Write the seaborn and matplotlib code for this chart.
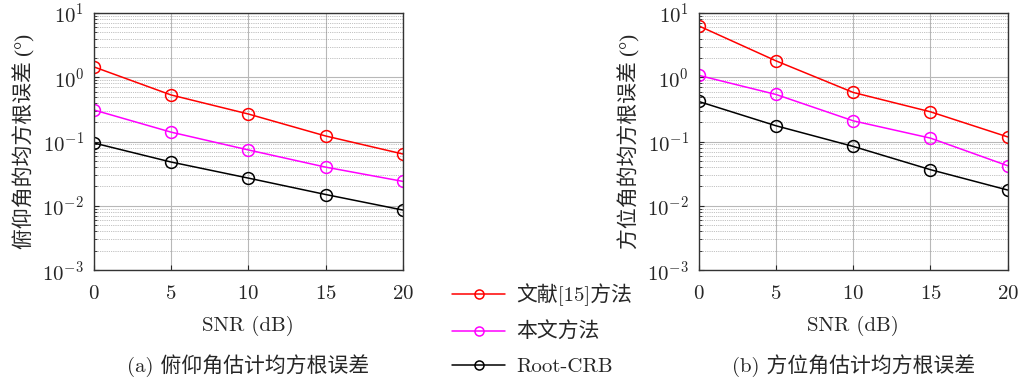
import numpy as np
import pandas as pd
import matplotlib
matplotlib.use('Agg')
import matplotlib.pyplot as plt
import seaborn as sns
from matplotlib.ticker import LogLocator, NullFormatter

sns.set_style('ticks')
plt.rcParams['font.family'] = ['cmr10', 'Noto Sans CJK SC', 'DejaVu Sans']
plt.rcParams['mathtext.fontset'] = 'cm'
plt.rcParams['axes.unicode_minus'] = False
plt.rcParams['axes.formatter.use_mathtext'] = True

# 数据
snr = [0, 5, 10, 15, 20]
methods = ['文献[15]方法', '本文方法', 'Root-CRB']
colors = ['#ff0000', '#ff00ff', '#000000']

# 俯仰角 RMSE
elev_ref15 = [1.45, 0.53, 0.268, 0.122, 0.064]
elev_ours = [0.31, 0.14, 0.074, 0.040, 0.024]
elev_crb = [0.095, 0.048, 0.027, 0.015, 0.0086]

# 方位角 RMSE
azim_ref15 = [6.3, 1.8, 0.58, 0.29, 0.118]
azim_ours = [1.07, 0.54, 0.21, 0.113, 0.042]
azim_crb = [0.42, 0.176, 0.084, 0.0365, 0.0176]


def to_long(a, b, c):
    rows = []
    for name, vals in zip(methods, [a, b, c]):
        for s, v in zip(snr, vals):
            rows.append({'SNR': s, 'RMSE': v, 'method': name})
    return pd.DataFrame(rows)


df_elev = to_long(elev_ref15, elev_ours, elev_crb)
df_azim = to_long(azim_ref15, azim_ours, azim_crb)

fig = plt.figure(figsize=(10.2, 3.81), dpi=100)
ax1 = fig.add_axes([0.092, 0.291, 0.303, 0.675])
ax2 = fig.add_axes([0.685, 0.291, 0.303, 0.675])

palette = dict(zip(methods, colors))
fs = 15

for ax, df, ylab, cap in [
    (ax1, df_elev, '俯仰角的均方根误差 (°)', '(a) 俯仰角估计均方根误差'),
    (ax2, df_azim, '方位角的均方根误差 (°)', '(b) 方位角估计均方根误差'),
]:
    sns.lineplot(data=df, x='SNR', y='RMSE', hue='method', hue_order=methods,
                 palette=palette, marker='o', markersize=8.5, markerfacecolor='none',
                 markeredgewidth=1.1, linewidth=1.1, ax=ax, legend=(ax is ax1))
    # 标记边框颜色与线一致
    for line in ax.get_lines():
        line.set_markeredgecolor(line.get_color())
    ax.set_yscale('log')
    ax.set_ylim(1e-3, 10)
    ax.set_xlim(0, 20)
    ax.set_xticks(snr)
    ax.yaxis.set_major_locator(LogLocator(base=10, numticks=10))
    ax.yaxis.set_minor_locator(LogLocator(base=10, subs=np.arange(2, 10), numticks=20))
    ax.yaxis.set_minor_formatter(NullFormatter())
    ax.grid(which='major', color='#b8b8b8', linewidth=0.8, linestyle='-')
    ax.grid(which='minor', axis='y', color='#888888', linewidth=0.5, linestyle=':')
    ax.tick_params(direction='in', which='both', labelsize=fs)
    ax.tick_params(axis='x', pad=11)
    ax.tick_params(axis='y', pad=7)
    ax.tick_params(which='minor', length=2)
    for sp in ax.spines.values():
        sp.set_linewidth(1.0)
        sp.set_color('#333333')
    ax.set_xlabel('SNR (dB)', fontsize=fs, labelpad=9)
    # cmr10 没有度数符号，换成 Liberation Serif + 中文字体
    ax.set_ylabel(ylab, fontsize=fs, labelpad=5,
                  family=['Liberation Serif', 'Noto Sans CJK SC'])
    ax.text(0.5, -0.37, cap, transform=ax.transAxes, ha='center', va='center', fontsize=fs)
    ax.set_axisbelow(True)

handles, labels = ax1.get_legend_handles_labels()
ax1.get_legend().remove()
for h in handles:
    h.set_markersize(6.5)
    h.set_markeredgecolor(h.get_color())
fig.legend(handles, labels, loc='center left', bbox_to_anchor=(0.425, 0.134),
           frameon=False, fontsize=fs, handlelength=2.55, labelspacing=0.75,
           handletextpad=0.5)

fig.savefig('out.png', dpi=100)
